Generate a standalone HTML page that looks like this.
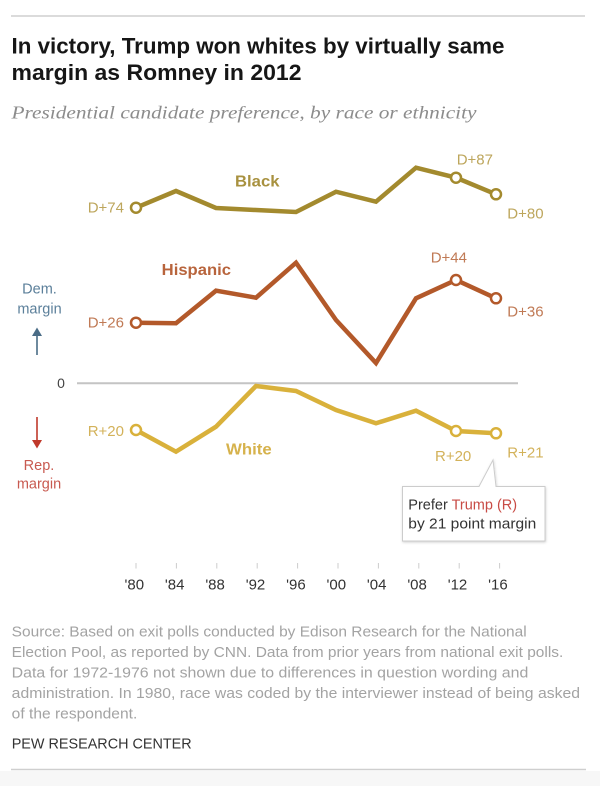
<!DOCTYPE html>
<html>
<head>
<meta charset="utf-8">
<style>
  html,body{margin:0;padding:0;background:#fff;}
  svg{display:block;}
  .sans{font-family:"Liberation Sans",Arial,sans-serif;}
  .serif{font-family:"Liberation Serif","Times New Roman",serif;}
</style>
</head>
<body>
<svg width="600" height="786" viewBox="0 0 600 786" xmlns="http://www.w3.org/2000/svg">
  <defs>
    <filter id="sh" x="-10%" y="-10%" width="130%" height="140%">
      <feDropShadow dx="0.5" dy="1" stdDeviation="1.2" flood-color="#000" flood-opacity="0.18"/>
    </filter>
  </defs>
  <rect x="0" y="0" width="600" height="786" fill="#fff"/>
  <rect x="0" y="771" width="600" height="15" fill="#f7f7f7"/>

  <!-- rules -->
  <line x1="11" y1="16" x2="585" y2="16" stroke="#cfcfcf" stroke-width="1.5"/>
  <line x1="11" y1="769.5" x2="586" y2="769.5" stroke="#cfcfcf" stroke-width="1.5"/>

  <!-- title -->
  <text class="sans" x="11.5" y="53.3" font-size="22" font-weight="bold" fill="#161616" textLength="493" lengthAdjust="spacingAndGlyphs">In victory, Trump won whites by virtually same</text>
  <text class="sans" x="11.5" y="80" font-size="22" font-weight="bold" fill="#161616" textLength="290" lengthAdjust="spacingAndGlyphs">margin as Romney in 2012</text>
  <text class="serif" x="11.5" y="118.5" font-size="18" font-style="italic" fill="#8c8c8c" textLength="465" lengthAdjust="spacingAndGlyphs">Presidential candidate preference, by race or ethnicity</text>

  <!-- zero line -->
  <line x1="77" y1="383.3" x2="518" y2="383.3" stroke="#c4c4c4" stroke-width="2"/>
  <text class="sans" x="61" y="387.8" font-size="14" fill="#444" text-anchor="middle">0</text>

  <!-- dem / rep margin -->
  <text class="sans" x="39.5" y="293.3" font-size="14.5" fill="#5b7f9a" text-anchor="middle">Dem.</text>
  <text class="sans" x="39.5" y="313.3" font-size="14.5" fill="#5b7f9a" text-anchor="middle">margin</text>
  <line x1="37" y1="334" x2="37" y2="355" stroke="#4a6c86" stroke-width="1.6"/>
  <polygon points="37,327.5 32,336 42,336" fill="#4a6c86"/>

  <line x1="37" y1="417" x2="37" y2="441" stroke="#c0392b" stroke-width="1.6"/>
  <polygon points="37,448.5 32,440 42,440" fill="#c0392b"/>
  <text class="sans" x="39" y="470" font-size="14.5" fill="#c85a50" text-anchor="middle">Rep.</text>
  <text class="sans" x="39" y="488.3" font-size="14.5" fill="#c85a50" text-anchor="middle">margin</text>

  <!-- Black series -->
  <polyline fill="none" stroke="#a38a2e" stroke-width="4.5" stroke-linejoin="miter" points="136,207.7 176,191 216,208 256,210 296,212 336,191.7 376,201.7 416,167.7 456,177.7 496,194.3"/>
  <circle cx="136" cy="207.7" r="5" fill="#fff" stroke="#a38a2e" stroke-width="2.5"/>
  <circle cx="456" cy="177.7" r="5" fill="#fff" stroke="#a38a2e" stroke-width="2.5"/>
  <circle cx="496" cy="194.3" r="5" fill="#fff" stroke="#a38a2e" stroke-width="2.5"/>
  <text class="sans" x="235" y="186.7" font-size="16" font-weight="bold" fill="#a8913f" textLength="44.5" lengthAdjust="spacingAndGlyphs">Black</text>
  <text class="sans" x="124" y="212.7" font-size="15" fill="#bda65c" text-anchor="end">D+74</text>
  <text class="sans" x="456.7" y="164.3" font-size="15" fill="#bda65c">D+87</text>
  <text class="sans" x="507.3" y="218.3" font-size="15" fill="#bda65c">D+80</text>

  <!-- Hispanic series -->
  <polyline fill="none" stroke="#b3592a" stroke-width="4.5" stroke-linejoin="miter" points="136,322.7 176,323.3 216,290.7 256,297.7 296,262.7 336,320 376,363 416,298.3 456,280 496,298.3"/>
  <circle cx="136" cy="322.7" r="5" fill="#fff" stroke="#b3592a" stroke-width="2.5"/>
  <circle cx="456" cy="280" r="5" fill="#fff" stroke="#b3592a" stroke-width="2.5"/>
  <circle cx="496" cy="298.3" r="5" fill="#fff" stroke="#b3592a" stroke-width="2.5"/>
  <text class="sans" x="161.7" y="275" font-size="16" font-weight="bold" fill="#b8643c" textLength="69.3" lengthAdjust="spacingAndGlyphs">Hispanic</text>
  <text class="sans" x="124" y="327.7" font-size="15" fill="#c07a55" text-anchor="end">D+26</text>
  <text class="sans" x="430.7" y="262.7" font-size="15" fill="#c07a55">D+44</text>
  <text class="sans" x="507.3" y="316.7" font-size="15" fill="#c07a55">D+36</text>

  <!-- White series -->
  <polyline fill="none" stroke="#d9b13b" stroke-width="4.5" stroke-linejoin="miter" points="136,430 176,451.7 216,426.7 256,386 296,391 336,410 376,423.3 416,410.7 456,431 496,433.3"/>
  <circle cx="136" cy="430" r="5" fill="#fff" stroke="#d9b13b" stroke-width="2.5"/>
  <circle cx="456" cy="431" r="5" fill="#fff" stroke="#d9b13b" stroke-width="2.5"/>
  <circle cx="496" cy="433.3" r="5" fill="#fff" stroke="#d9b13b" stroke-width="2.5"/>
  <text class="sans" x="226" y="454.3" font-size="16" font-weight="bold" fill="#d6b24c" textLength="45.7" lengthAdjust="spacingAndGlyphs">White</text>
  <text class="sans" x="124" y="436" font-size="15" fill="#d3b25a" text-anchor="end">R+20</text>
  <text class="sans" x="435" y="461" font-size="15" fill="#d3b25a">R+20</text>
  <text class="sans" x="507.3" y="457.7" font-size="15" fill="#d3b25a">R+21</text>

  <!-- callout -->
  <path d="M402.5,486.5 H479 L493,460 L496,486.5 H545 V541 H402.5 Z" fill="#fff" stroke="#cccccc" stroke-width="1" filter="url(#sh)"/>
  <text class="sans" x="408.3" y="509.5" font-size="14.5" fill="#333"><tspan>Prefer </tspan><tspan fill="#c84b45">Trump (R)</tspan></text>
  <text class="sans" x="408.3" y="528.5" font-size="14.5" fill="#333" textLength="128" lengthAdjust="spacingAndGlyphs">by 21 point margin</text>

  <!-- x axis ticks -->
  <g stroke="#cccccc" stroke-width="1">
    <line x1="136" y1="563" x2="136" y2="568.5"/>
    <line x1="176.4" y1="563" x2="176.4" y2="568.5"/>
    <line x1="216.8" y1="563" x2="216.8" y2="568.5"/>
    <line x1="257.2" y1="563" x2="257.2" y2="568.5"/>
    <line x1="297.6" y1="563" x2="297.6" y2="568.5"/>
    <line x1="338" y1="563" x2="338" y2="568.5"/>
    <line x1="378.4" y1="563" x2="378.4" y2="568.5"/>
    <line x1="418.8" y1="563" x2="418.8" y2="568.5"/>
    <line x1="459.2" y1="563" x2="459.2" y2="568.5"/>
    <line x1="499.6" y1="563" x2="499.6" y2="568.5"/>
  </g>
  <g class="sans" font-size="15" fill="#333" text-anchor="middle">
    <text x="134.3" y="589.3">'80</text>
    <text x="174.7" y="589.3">'84</text>
    <text x="215.1" y="589.3">'88</text>
    <text x="255.5" y="589.3">'92</text>
    <text x="295.9" y="589.3">'96</text>
    <text x="336.3" y="589.3">'00</text>
    <text x="376.7" y="589.3">'04</text>
    <text x="417.1" y="589.3">'08</text>
    <text x="457.5" y="589.3">'12</text>
    <text x="497.9" y="589.3">'16</text>
  </g>

  <!-- source -->
  <g class="sans" font-size="14.5" fill="#a3a3a3">
    <text x="11.7" y="636.7" textLength="515" lengthAdjust="spacingAndGlyphs">Source: Based on exit polls conducted by Edison Research for the National</text>
    <text x="11.7" y="657.1" textLength="551.6" lengthAdjust="spacingAndGlyphs">Election Pool, as reported by CNN. Data from prior years from national exit polls.</text>
    <text x="11.7" y="677.5" textLength="516.6" lengthAdjust="spacingAndGlyphs">Data for 1972-1976 not shown due to differences in question wording and</text>
    <text x="11.7" y="697.9" textLength="568.3" lengthAdjust="spacingAndGlyphs">administration. In 1980, race was coded by the interviewer instead of being asked</text>
    <text x="11.7" y="718.3" textLength="125.6" lengthAdjust="spacingAndGlyphs">of the respondent.</text>
  </g>
  <text class="sans" x="11.7" y="748.7" font-size="15" fill="#333" textLength="180" lengthAdjust="spacingAndGlyphs">PEW RESEARCH CENTER</text>
</svg>
</body>
</html>
